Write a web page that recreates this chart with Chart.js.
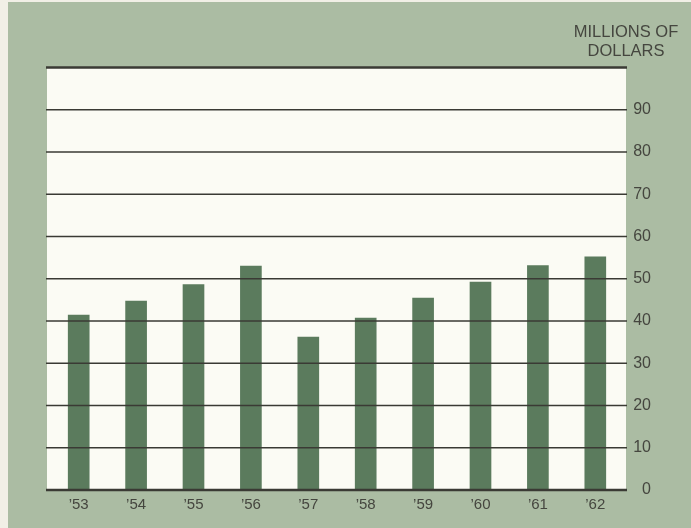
<!DOCTYPE html>
<html>
<head>
<meta charset="utf-8">
<title>Millions of Dollars, 1953–1962</title>
<script src="https://cdn.jsdelivr.net/npm/chart.js@4.4.1/dist/chart.umd.min.js"></script>
<style>
  html, body { margin: 0; padding: 0; background: #f1efe6; }
  #wrap { width: 691px; height: 528px; position: relative; }
</style>
</head>
<body>
<div id="wrap"><canvas id="chart" width="691" height="528"></canvas></div>
<script>
// Annual values, millions of dollars
const years = ["’53", "’54", "’55", "’56", "’57", "’58", "’59", "’60", "’61", "’62"];
const amounts = [41.4, 44.7, 48.6, 53.0, 36.2, 40.7, 45.4, 49.2, 53.1, 55.2];
const unitLines = ["MILLIONS OF", "DOLLARS"];
const yMin = 0, yMax = 100, yStep = 10;

const PANEL = "#abbca3";
const PAPER = "#fbfbf4";
const BAR = "#5b7b5d";
const RULE = "#3a3a34";
const INK = "#45463f";
const FONT = "'Liberation Sans', Arial, sans-serif";

// Green backing panel, white plot field, and the rules drawn over the bars
const framePlugin = {
  id: "frame",
  beforeDraw(chart) {
    const { ctx, chartArea: a } = chart;
    ctx.save();
    ctx.fillStyle = "#f1efe6";
    ctx.fillRect(0, 0, chart.width, chart.height);
    ctx.fillStyle = PANEL;
    ctx.fillRect(8, 2, chart.width - 8, chart.height - 2);
    ctx.fillStyle = PAPER;
    ctx.fillRect(a.left - 3, a.top, a.right - a.left + 5, a.bottom - a.top);
    // unit caption
    ctx.fillStyle = INK;
    ctx.font = "16.5px " + FONT;
    ctx.textAlign = "center";
    ctx.textBaseline = "alphabetic";
    const cx = a.right + 2;
    ctx.fillText(unitLines[0], cx, 36.5);
    ctx.fillText(unitLines[1], cx, 56);
    ctx.restore();
  },
  afterDatasetsDraw(chart) {
    const { ctx, chartArea: a, scales } = chart;
    const y = scales.y;
    ctx.save();
    ctx.strokeStyle = RULE;
    for (let v = yMin; v <= yMax; v += yStep) {
      const py = y.getPixelForValue(v);
      ctx.lineWidth = (v === yMin || v === yMax) ? 2.6 : 1.5;
      ctx.beginPath();
      ctx.moveTo(a.left - 4, py);
      ctx.lineTo(a.right + 3, py);
      ctx.stroke();
    }
    ctx.restore();
  }
};

new Chart(document.getElementById("chart"), {
  type: "bar",
  data: {
    labels: years,
    datasets: [{
      data: amounts,
      backgroundColor: BAR,
      borderWidth: 0,
      barThickness: 21
    }]
  },
  options: {
    responsive: false,
    animation: false,
    devicePixelRatio: 1,
    layout: { padding: { left: 50, right: 40, top: 67.5, bottom: 8 } },
    plugins: {
      legend: { display: false },
      tooltip: { enabled: false },
      title: { display: false }
    },
    scales: {
      x: {
        grid: { display: false, drawTicks: false },
        border: { display: false },
        ticks: {
          color: INK,
          font: { family: FONT, size: 15 },
          padding: 6,
          maxRotation: 0
        }
      },
      y: {
        position: "right",
        min: yMin,
        max: yMax,
        afterFit: (scale) => { scale.width = 27; },
        grid: { display: false, drawTicks: false },
        border: { display: false },
        ticks: {
          stepSize: yStep,
          color: INK,
          font: { family: FONT, size: 16 },
          padding: 10,
          crossAlign: "far",
          callback: (v) => (v === yMax ? "" : v)
        }
      }
    }
  },
  plugins: [framePlugin]
});
</script>
</body>
</html>
